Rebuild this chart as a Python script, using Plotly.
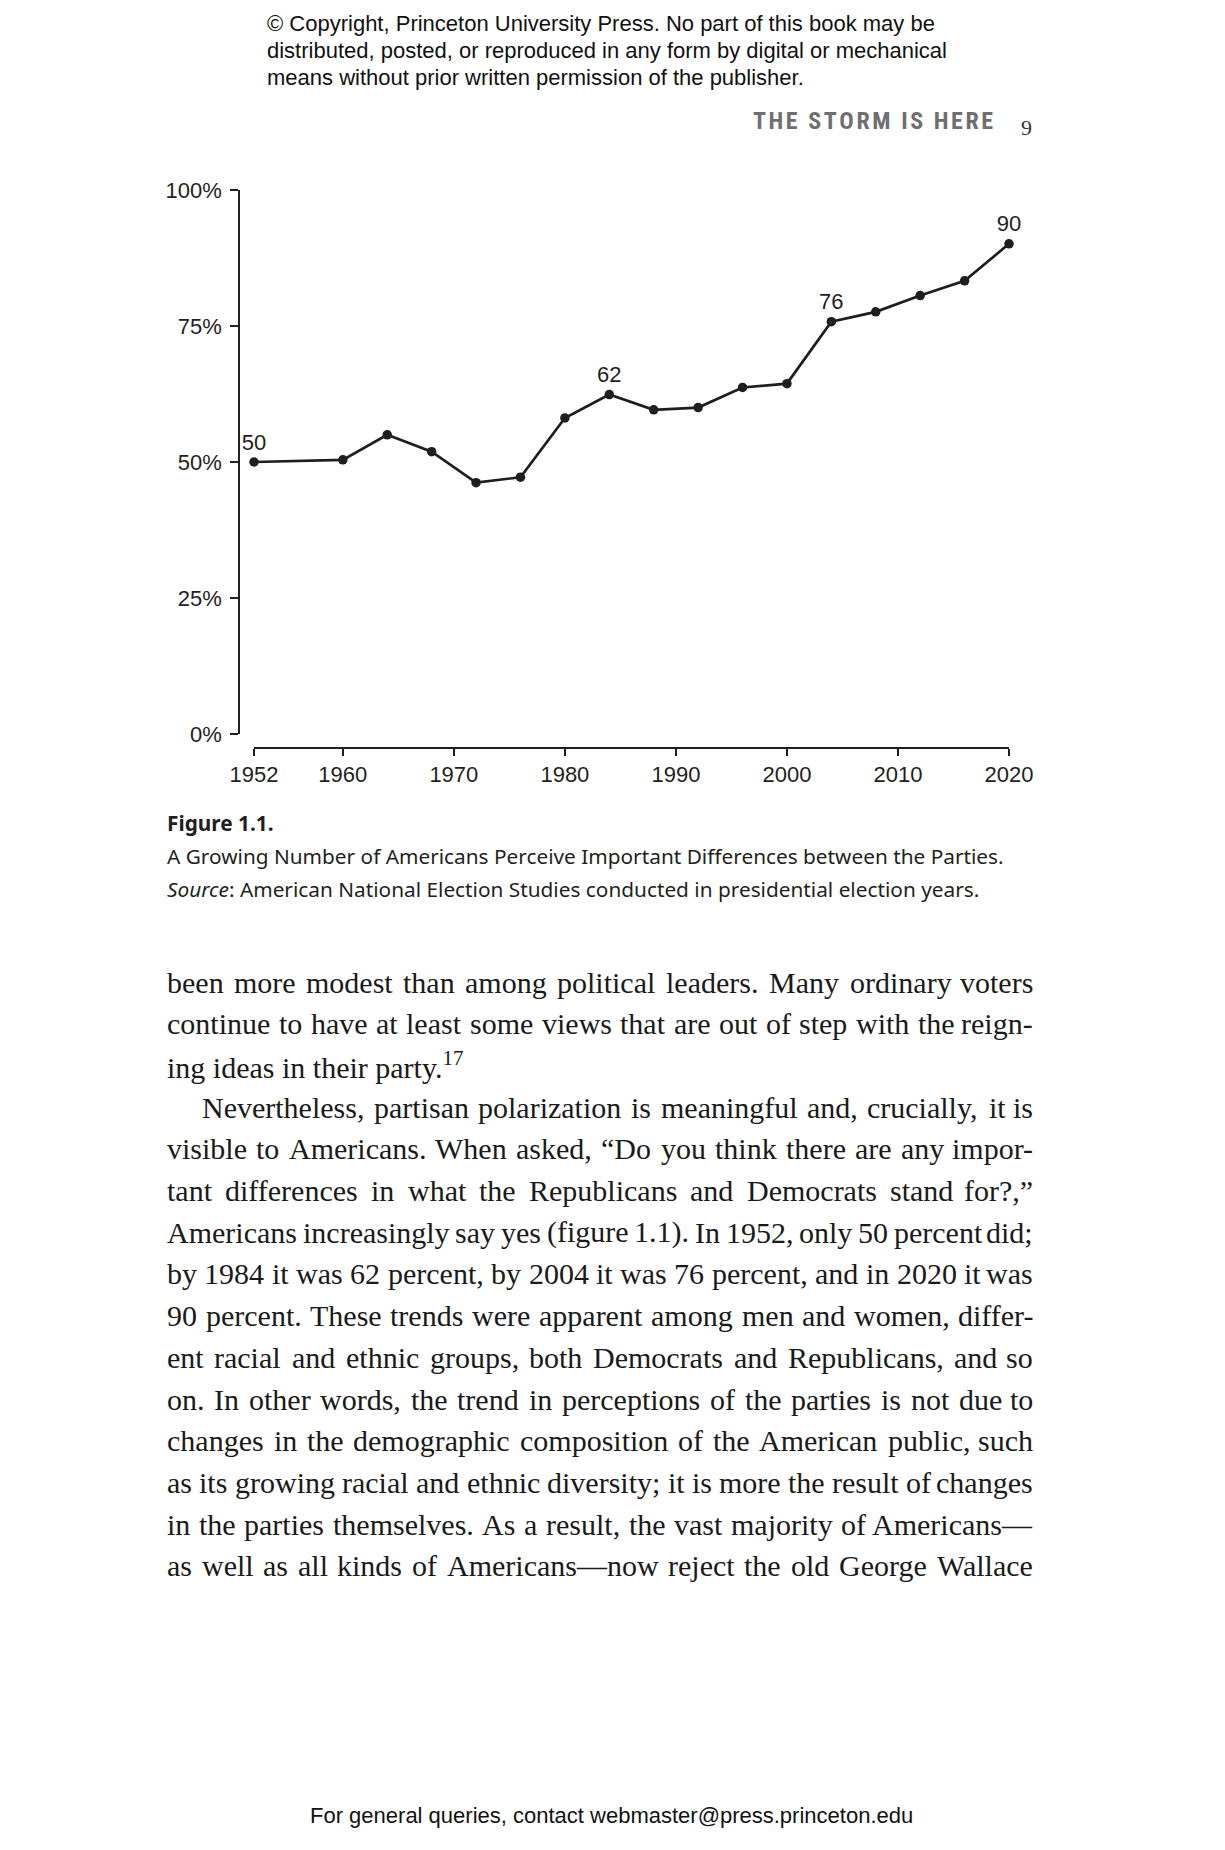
import plotly.graph_objects as go

# ---------------- data ----------------
years = [1952, 1960, 1964, 1968, 1972, 1976, 1980, 1984, 1988, 1992, 1996, 2000, 2004, 2008, 2012, 2016, 2020]
share = [50.0, 50.4, 55.0, 51.9, 46.2, 47.2, 58.1, 62.4, 59.6, 60.0, 63.7, 64.4, 75.8, 77.6, 80.6, 83.3, 90.1]
point_labels = ["50", "", "", "", "", "", "", "62", "", "", "", "", "76", "", "", "", "90"]
x_tick_vals = [1952, 1960, 1970, 1980, 1990, 2000, 2010, 2020]
x_tick_text = ["1952", "1960", "1970", "1980", "1990", "2000", "2010", "2020"]
y_tick_vals = [0, 25, 50, 75, 100]
y_tick_text = ["0%", "25%", "50%", "75%", "100%"]

copyright_lines = [
    "© Copyright, Princeton University Press. No part of this book may be",
    "distributed, posted, or reproduced in any form by digital or mechanical",
    "means without prior written permission of the publisher.",
]
running_head = "THE STORM IS HERE"
page_number = "9"
caption_title = "Figure 1.1."
caption_text = "A Growing Number of Americans Perceive Important Differences between the Parties."
caption_source = "<i>Source</i>: American National Election Studies conducted in presidential election years."
body_lines = [
    "been more modest than among political leaders. Many ordinary voters",
    "continue to have at least some views that are out of step with the reign-",
    "ing ideas in their party.<sup>17</sup>",
    "Nevertheless, partisan polarization is meaningful and, crucially, it is",
    "visible to Americans. When asked, “Do you think there are any impor-",
    "tant differences in what the Republicans and Democrats stand for?,”",
    "Americans increasingly say yes (figure 1.1). In 1952, only 50 percent did;",
    "by 1984 it was 62 percent, by 2004 it was 76 percent, and in 2020 it was",
    "90 percent. These trends were apparent among men and women, differ-",
    "ent racial and ethnic groups, both Democrats and Republicans, and so",
    "on. In other words, the trend in perceptions of the parties is not due to",
    "changes in the demographic composition of the American public, such",
    "as its growing racial and ethnic diversity; it is more the result of changes",
    "in the parties themselves. As a result, the vast majority of Americans—",
    "as well as all kinds of Americans—now reject the old George Wallace",
]
body_justified = [True, True, False, True, True, True, True, True, True, True, True, True, True, True, True]
body_indent = [False, False, False, True] + [False] * 11
footer = "For general queries, contact webmaster@press.princeton.edu"

# ---------------- page geometry (page pixel coords) ----------------
OFF = 8                       # default body margin of the html page
PAGE_W, PAGE_H = 1225, 1850
W, H = PAGE_W - 2 * OFF, PAGE_H - 2 * OFF
L, R, T, B = 239, 1009, 190, 748   # plot area in page pixels
PW, PH = R - L, B - T


def fx(px):
    return (px - L) / PW


def fy(py):
    return (B - py) / PH


INK = "#231f20"
SANS = "Liberation Sans, Arial, sans-serif"
SERIF = "Liberation Serif, Times New Roman, serif"
CAP = "Noto Sans, Open Sans, sans-serif"

fig = go.Figure()
fig.add_trace(go.Scatter(
    x=years, y=share, mode="lines+markers+text",
    line=dict(color="#1e1e1e", width=2.7),
    marker=dict(color="#1e1e1e", size=9.5),
    text=point_labels, textposition="top center",
    textfont=dict(family=SANS, size=22, color=INK),
    cliponaxis=False, hoverinfo="skip",
))

fig.update_layout(
    width=W, height=H,
    margin=dict(l=L - OFF, r=W - (R - OFF), t=T - OFF, b=H - (B - OFF), pad=0),
    paper_bgcolor="white", plot_bgcolor="white",
    showlegend=False,
    font=dict(family=SANS, size=22, color=INK),
    xaxis=dict(
        domain=[(254 - L) / PW, 1], range=[1952, 2020], anchor="free", position=0,
        showline=True, linewidth=2, linecolor=INK, ticks="outside", ticklen=7,
        tickwidth=2, tickcolor=INK, tickvals=x_tick_vals, ticktext=x_tick_text,
        showgrid=False, zeroline=False, tickfont=dict(family=SANS, size=22, color=INK),
    ),
    yaxis=dict(
        domain=[(B - 734) / PH, 1], range=[0, 100], anchor="free", position=0,
        showline=True, linewidth=1.5, linecolor=INK, ticks="outside", ticklen=8,
        tickwidth=1.5, tickcolor=INK, tickvals=y_tick_vals, ticktext=y_tick_text,
        showgrid=False, zeroline=False, ticklabelstandoff=4,
        tickfont=dict(family=SANS, size=22, color=INK),
    ),
)

ann = []


def add_text(text, px, py, size, family, color=INK, xanchor="left", yanchor="middle"):
    ann.append(dict(text=text, x=fx(px), y=fy(py), xref="paper", yref="paper",
                    showarrow=False, xanchor=xanchor, yanchor=yanchor,
                    font=dict(family=family, size=size, color=color), borderpad=0))


for i, line in enumerate(copyright_lines):
    add_text(line, 266, 23.6 + i * 27.1, 22, SANS, color="#111111")

spaced_head = "\u2002".join("\u200a".join(word) for word in running_head.split(" "))
add_text("<b>" + spaced_head + "</b>", 994, 121, 24,
         "Liberation Sans Narrow, Roboto Condensed, Roboto, sans-serif",
         color="#6f6f6f", xanchor="right")
add_text(page_number, 1027, 127, 22, SERIF, color="#333333", xanchor="center")

add_text("<b>" + caption_title + "</b>", 166, 822.6, 20.8, CAP)
add_text(caption_text, 166, 855.6, 20.8, CAP)
add_text(caption_source, 166, 888.7, 20.8, CAP)

# Times / Liberation Serif advance widths (per 1000 em) for justification
TIMES = {" ": 250, "!": 333, "(": 333, ")": 333, ",": 250, "-": 333, ".": 250, ":": 278, ";": 278,
         "?": 444, "“": 444, "”": 444, "—": 1000, "’": 333,
         "A": 722, "B": 667, "C": 667, "D": 722, "E": 611, "F": 556, "G": 722, "H": 722, "I": 333,
         "J": 389, "K": 722, "L": 611, "M": 889, "N": 722, "O": 722, "P": 556, "Q": 722, "R": 667,
         "S": 556, "T": 611, "U": 722, "V": 722, "W": 944, "X": 722, "Y": 722, "Z": 611,
         "a": 444, "b": 500, "c": 444, "d": 500, "e": 444, "f": 333, "g": 500, "h": 500, "i": 278,
         "j": 278, "k": 500, "l": 278, "m": 778, "n": 500, "o": 500, "p": 500, "q": 500, "r": 333,
         "s": 389, "t": 278, "u": 500, "v": 500, "w": 722, "x": 500, "y": 500, "z": 444}


def tw(s, size):
    return sum(TIMES.get(c, 500) for c in s) * size / 1000.0


BODY_SIZE = 30
BODY_LEFT, BODY_RIGHT = 166, 1034
BODY_TOP, BODY_STEP = 982, 41.7
INDENT = 35

for i, line in enumerate(body_lines):
    py = BODY_TOP + i * BODY_STEP
    left = BODY_LEFT + (INDENT if body_indent[i] else 0)
    if not body_justified[i]:
        add_text(line, left, py, BODY_SIZE, SERIF, color="#1a1a1a")
        continue
    words = line.split(" ")
    widths = [tw(w, BODY_SIZE) for w in words]
    gap = (BODY_RIGHT - left - sum(widths)) / (len(words) - 1)
    xpos = left
    for j, w in enumerate(words):
        if j == len(words) - 1:
            add_text(w, BODY_RIGHT, py, BODY_SIZE, SERIF, color="#1a1a1a", xanchor="right")
        else:
            add_text(w, xpos, py, BODY_SIZE, SERIF, color="#1a1a1a")
        xpos += widths[j] + gap

add_text(footer, 611, 1815, 22, SANS, color="#111111", xanchor="center")

fig.update_layout(annotations=ann)
fig.write_html("out.html")
